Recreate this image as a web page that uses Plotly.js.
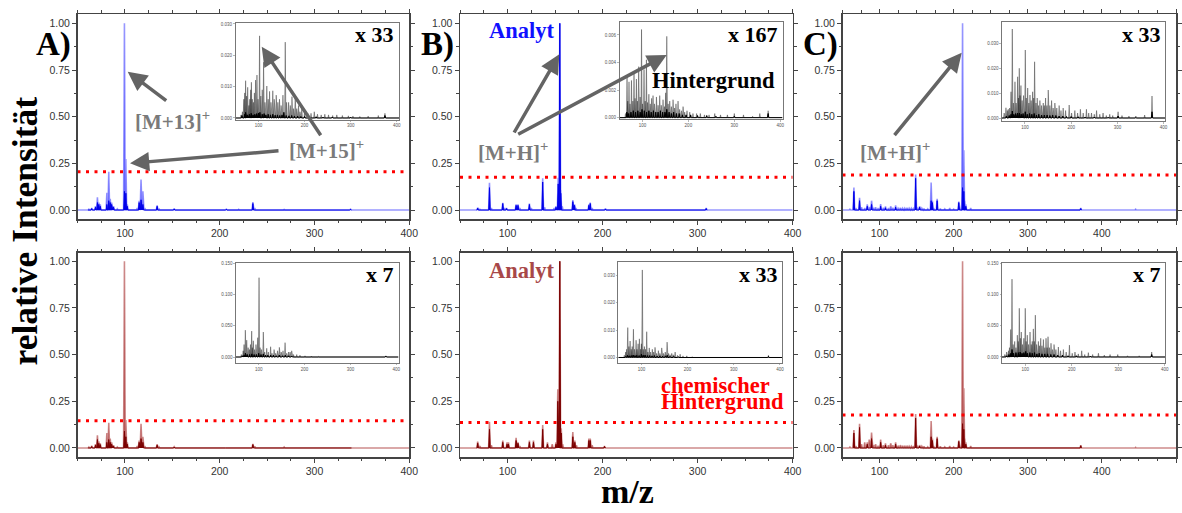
<!DOCTYPE html>
<html><head><meta charset="utf-8">
<script src="https://cdn.plot.ly/plotly-3.0.1.min.js"></script>
<style>html,body{margin:0;padding:0;background:#fff}#chart{width:1182px;height:513px}</style>
</head><body><div id="chart"></div>
<script>
// ---------- main spectra (m/z, relative intensity) ----------
const mzA = [62,65,69,71,72.5,74,81,83,84.5,86,88,92,99.5,101,102.5,113,115,117,119,121,134,136,152,156,165,193,207,220,235,237,268,338];
const intA_top = [0.005,0.01,0.02,0.068,0.04,0.03,0.093,0.205,0.06,0.04,0.02,0.006,1.0,0.273,0.03,0.01,0.05,0.164,0.1,0.01,0.025,0.008,0.008,0.004,0.003,0.003,0.005,0.004,0.043,0.01,0.003,0.005];
const intA_bot = [0.005,0.012,0.02,0.068,0.035,0.025,0.08,0.135,0.05,0.03,0.015,0.005,1.0,0.15,0.03,0.01,0.04,0.13,0.06,0.01,0.02,0.006,0.007,0.003,0.002,0.002,0.003,0.003,0.022,0.008,0.005,0.002];
const mzA_core = [62,65,69,71,72.5,74,81,83,84.5,86,88,99.5,101,102.5,115,117,119,134,152,207,235,338];
const coreA_top = [0.004,0.008,0.015,0.04,0.03,0.02,0.03,0.05,0.04,0.03,0.015,0.1,0.09,0.02,0.04,0.055,0.03,0.02,0.006,0.004,0.035,0.004];
const coreA_bot = [0.004,0.008,0.015,0.045,0.025,0.018,0.03,0.045,0.03,0.02,0.01,0.09,0.06,0.02,0.03,0.05,0.03,0.015,0.005,0.002,0.018,0.002];

const mzB_top = [68.6,71,81,83,95,97,99,109,111,113,123,125,137,139,149,151,153.3,155,156,157.5,168.7,170.5,172,185.6,187,189,203,220,309];
const intB_top = [0.012,0.004,0.146,0.01,0.039,0.01,0.01,0.03,0.03,0.01,0.035,0.01,0.17,0.015,0.01,0.02,0.173,1.0,0.107,0.02,0.054,0.03,0.01,0.03,0.04,0.01,0.008,0.003,0.01];
const mzB_topCore = [68.6,81,95,99,109,111,123,137,151,153.3,155,156,168.7,170.5,185.6,187,203,309];
const coreB_top = [0.01,0.12,0.035,0.008,0.025,0.025,0.03,0.15,0.015,0.14,1.0,0.09,0.045,0.025,0.025,0.035,0.006,0.008];
const mzB_bot = [68.6,71,81,83,95,99.5,101,109,111,113,123,127.3,137,142,147,151,152.9,155,156.5,158,168.7,170.8,172.5,185.6,187,189,202,218,309];
const intB_bot = [0.034,0.01,0.14,0.015,0.04,0.03,0.03,0.055,0.03,0.01,0.04,0.04,0.123,0.03,0.02,0.03,0.314,1.0,0.105,0.02,0.085,0.04,0.015,0.05,0.05,0.015,0.01,0.003,0.003];
const mzB_botCore = [68.6,81,95,99.5,101,109,111,123,127.3,137,142,151,152.9,155,156.5,168.7,170.8,185.6,187,202];
const coreB_bot = [0.025,0.1,0.03,0.02,0.02,0.04,0.025,0.03,0.03,0.1,0.02,0.02,0.25,1.0,0.08,0.06,0.03,0.04,0.04,0.008];

const mzC = [60,65.4,68,73,75.7,80,83.4,86,89.2,92,94.7,98,101.5,105,108,112,115,118,121.7,125,128,131,134,137,140,143,146,148.7,151,154,157,160,165,169.6,171.3,173,177.7,182,188,194.7,200,206.9,210,212,213.7,215,216.4,223,235,371.5,445.5];
const intC_top = [0.005,0.12,0.01,0.066,0.015,0.01,0.03,0.015,0.05,0.012,0.015,0.01,0.032,0.012,0.02,0.01,0.02,0.012,0.025,0.01,0.012,0.01,0.01,0.012,0.01,0.01,0.008,0.19,0.01,0.02,0.01,0.008,0.006,0.148,0.05,0.01,0.06,0.008,0.006,0.01,0.005,0.045,0.01,1.0,0.32,0.05,0.03,0.01,0.004,0.01,0.005];
const intC_bot = [0.005,0.096,0.01,0.13,0.02,0.03,0.03,0.045,0.082,0.015,0.02,0.012,0.045,0.015,0.025,0.015,0.025,0.015,0.03,0.012,0.015,0.012,0.012,0.012,0.01,0.01,0.01,0.182,0.01,0.015,0.01,0.008,0.006,0.145,0.05,0.01,0.06,0.008,0.006,0.01,0.005,0.04,0.01,1.0,0.32,0.05,0.03,0.01,0.004,0.015,0.004];
const mzC_core = [65.4,73,83.4,89.2,101.5,108,121.7,148.7,154,169.6,171.3,177.7,206.9,212,213.7,216.4,371.5];
const coreC_top = [0.1,0.05,0.02,0.03,0.02,0.012,0.015,0.17,0.015,0.05,0.04,0.05,0.04,0.12,0.1,0.02,0.008];
const coreC_bot = [0.08,0.11,0.02,0.05,0.03,0.015,0.02,0.16,0.01,0.06,0.04,0.05,0.035,0.13,0.1,0.02,0.012];

// dotted threshold levels (top row A,B,C ; bottom row A,B,C)
const thresholdTop = [0.205, 0.175, 0.187];
const thresholdBot = [0.146, 0.137, 0.177];

// ---------- inset spectra (background, magnified) ----------
const inA_top_mz = [62,65,68,70,72,74,76.5,79,81,83,84.5,86.5,89,91,93.6,96.6,99,102.3,105,108,111,114,118,121,124,127,131,134,138.4,142,145.5,149,153,158,161,165.3,169,172.6,176,179.6,183,186.8,190,194,200,207,214,221,228,236,244,252,261,270,282,295,305,320,338,360,374.5];
const inA_top_h = [0.001,0.002,0.006,0.008,0.0119,0.007,0.0098,0.004,0.006,0.009,0.0114,0.006,0.005,0.008,0.0121,0.0137,0.006,0.0262,0.007,0.009,0.0178,0.005,0.0102,0.006,0.0085,0.005,0.0087,0.006,0.0073,0.005,0.006,0.004,0.0073,0.0242,0.005,0.005,0.004,0.0068,0.003,0.007,0.003,0.004,0.002,0.003,0.002,0.0015,0.0015,0.002,0.0012,0.001,0.0012,0.001,0.0008,0.001,0.0008,0.0007,0.0006,0.0005,0.0006,0.0008,0.0015];
const inA_top_dmz = [64,70,72,76,80,84,88,92,96,100,103,108,112,116,121,126,131,136,141,146,151,155,160,166,172,178,185,192,200,210,225,240,260,300,374.5];
const inA_top_dh = [0.0008,0.0012,0.0018,0.001,0.0012,0.0015,0.001,0.0012,0.0014,0.0016,0.0018,0.0012,0.0014,0.001,0.0012,0.001,0.0012,0.0009,0.001,0.0008,0.001,0.0018,0.0008,0.0007,0.0008,0.0006,0.0006,0.0005,0.0005,0.0004,0.0004,0.0003,0.0003,0.0003,0.0008];

const inB_top_mz = [63,66.4,68,70.7,73,76,79,81.6,84,86.8,89,91.8,95,98,100,103.4,106,108.6,111,114,117,120,123,126,130.4,134,137.6,141,144.8,148,150.5,153,156,159.4,163,166.6,170,173,177.5,181,185,188.4,192,197,203,210,218,226,235,245,257.5,270,285,300,320,340,355.6,373.7];
const inB_top_h = [0.0003,0.0030,0.0012,0.0026,0.0010,0.0027,0.0012,0.0032,0.0014,0.0028,0.0012,0.0037,0.0015,0.0064,0.0010,0.0035,0.0012,0.0042,0.0011,0.0017,0.0010,0.0014,0.0016,0.0010,0.0015,0.0009,0.0016,0.0009,0.0013,0.0008,0.0018,0.0059,0.0010,0.0012,0.0008,0.0013,0.0007,0.0010,0.0012,0.0006,0.0005,0.0008,0.0004,0.0005,0.0004,0.0003,0.0003,0.0003,0.0002,0.0002,0.0003,0.0002,0.0002,0.0003,0.0002,0.0001,0.0003,0.0005];
const inB_top_dmz = [66,70,75,80,85,90,95,99,104,109,114,119,124,129,134,139,144,149,153,158,163,168,174,180,187,195,205,220,240,260,300,373.7];
const inB_top_dh = [0.0004,0.0003,0.0004,0.0005,0.0004,0.0005,0.0004,0.0006,0.0005,0.0004,0.0005,0.0004,0.0005,0.0004,0.0004,0.0005,0.0004,0.0004,0.0006,0.0004,0.0003,0.0004,0.0003,0.0003,0.0002,0.0002,0.0002,0.00015,0.00015,0.0001,0.0001,0.0003];

const inC_top_mz = [55,59,62,64,67,69.9,72.7,75,78.5,81,84.3,86,87.8,89.5,91.4,94,97,100.8,103,106,108.5,111,113.5,116.7,119,121,124,126.6,129.5,132.4,136,139.6,142,144.7,147.5,150.4,154,157.7,161,164.8,169,174,178,182.7,188,195.7,201,208,214,220,226,233,238,244,250,255,262,269,276,283.5,290,301.5,310,325,340,359,374.9];
const inC_top_h = [0.002,0.0041,0.003,0.0035,0.004,0.0105,0.0356,0.006,0.0145,0.006,0.0165,0.008,0.0199,0.009,0.013,0.007,0.009,0.0272,0.008,0.012,0.006,0.0092,0.007,0.0105,0.008,0.0225,0.006,0.008,0.005,0.007,0.005,0.006,0.005,0.008,0.005,0.0112,0.005,0.007,0.004,0.006,0.004,0.005,0.003,0.004,0.003,0.0052,0.002,0.003,0.002,0.0035,0.002,0.0035,0.002,0.002,0.0015,0.003,0.0015,0.002,0.001,0.0015,0.001,0.0025,0.001,0.0008,0.0008,0.0012,0.0088];
const inC_top_dmz = [60,66,70,72.7,76,80,84,88,92,96,100.8,105,110,115,120,125,130,136,142,148,154,160,167,174,182,190,200,215,230,250,280,301.5,340,374.9];
const inC_top_dh = [0.0008,0.001,0.0015,0.0028,0.0015,0.0018,0.002,0.002,0.0015,0.0018,0.0025,0.0015,0.0018,0.0015,0.0018,0.0012,0.0015,0.0012,0.0012,0.0012,0.001,0.0012,0.001,0.0008,0.0008,0.0006,0.0006,0.0005,0.0004,0.0004,0.0003,0.0008,0.0002,0.0025];

const inA_bot_mz = [62,66,68,70.8,73.8,77,80,82,84.7,86,88.2,91,94,97.8,100.7,103,106,110,113,117.5,121,126,129,133.5,137,141,145,149,153,157.5,161,165,168.4,172,176,183,190,201,215,230,250,280,320,377.5];
const inA_bot_h = [0.004,0.01,0.02,0.043,0.027,0.015,0.012,0.02,0.0415,0.015,0.026,0.012,0.02,0.031,0.127,0.015,0.012,0.04,0.008,0.014,0.008,0.0165,0.006,0.012,0.006,0.01,0.0155,0.008,0.01,0.023,0.006,0.008,0.008,0.01,0.004,0.004,0.003,0.002,0.0015,0.001,0.001,0.0008,0.0006,0.002];
const inA_bot_dmz = [64,68,71,75,80,85,90,95,100,105,110,115,120,126,132,138,145,152,158,165,172,180,200,377.5];
const inA_bot_dh = [0.002,0.003,0.006,0.004,0.004,0.005,0.004,0.004,0.006,0.004,0.005,0.003,0.003,0.003,0.003,0.002,0.003,0.002,0.003,0.002,0.0015,0.001,0.0008,0.0015];

const inB_bot_mz = [63,66,68,70.5,73,75.5,78,80,82.7,85,88.5,90.5,92.8,95.6,98,100,102,104,106.5,109,111.5,114,117,120,123.6,126.5,129.5,133,136.7,140,144,148,151.5,155.6,159,162,165.7,169,173,178,183.8,190,198.3,210,230,260,300,340,375];
const inB_bot_h = [0.0008,0.002,0.003,0.0109,0.004,0.006,0.003,0.004,0.0103,0.003,0.0063,0.003,0.005,0.0068,0.003,0.005,0.0319,0.003,0.004,0.003,0.0094,0.002,0.0035,0.002,0.003,0.002,0.0037,0.0015,0.0025,0.0015,0.0035,0.0015,0.002,0.0056,0.0015,0.001,0.0015,0.001,0.002,0.0008,0.0012,0.0006,0.0006,0.0003,0.0002,0.0002,0.0002,0.0002,0.0008];
const inB_bot_dmz = [66,70,74,78,82,86,90,95,100,104,108,113,118,123,128,134,140,146,152,156,162,170,180,195,375];
const inB_bot_dh = [0.0004,0.0008,0.0006,0.0007,0.0009,0.0007,0.0008,0.0007,0.0012,0.0008,0.0009,0.0007,0.0007,0.0006,0.0007,0.0005,0.0006,0.0005,0.0006,0.0008,0.0004,0.0004,0.0003,0.0002,0.0004];

const inC_bot_mz = [56,60,64,66,68.7,71.5,74,77.3,80,83,85,87.2,89.5,91.5,94,97,100,102,104.4,107,110.3,113,115,117.4,119.5,121.7,124.5,128.2,130.5,133.3,136,139,142,144.7,147,149,152,155.4,158.5,161.9,166,171.2,176,182,188,195,201,207,214,221.5,228,235.7,245,257.4,270,282.4,299,320,345,372];
const inC_bot_h = [0.004,0.008,0.01,0.015,0.044,0.1246,0.02,0.025,0.015,0.035,0.025,0.078,0.03,0.04,0.02,0.03,0.078,0.025,0.035,0.02,0.04,0.02,0.025,0.045,0.025,0.067,0.02,0.025,0.018,0.03,0.018,0.028,0.015,0.03,0.015,0.0325,0.015,0.022,0.012,0.02,0.012,0.016,0.01,0.012,0.008,0.019,0.006,0.008,0.005,0.01,0.004,0.007,0.004,0.006,0.003,0.004,0.004,0.002,0.002,0.008];
const inC_bot_dmz = [60,65,69,71.5,75,80,85,89,93,97,101,105,110,115,120,125,130,136,142,148,155,162,170,180,192,210,240,300,372];
const inC_bot_dh = [0.002,0.004,0.006,0.012,0.006,0.007,0.007,0.008,0.006,0.007,0.009,0.006,0.007,0.006,0.007,0.005,0.006,0.005,0.005,0.005,0.004,0.004,0.003,0.003,0.002,0.002,0.0015,0.001,0.004];

// ---------- helpers ----------
const W = 1182, H = 513;
const PX = x => x / W, PY = y => 1 - y / H;

function stick(mz, h, hw, x0, x1) {
  const idx = mz.map((_, i) => i).sort((a, b) => mz[a] - mz[b]);
  const X = [x0], Y = [0];
  idx.forEach(i => { X.push(mz[i] - hw, mz[i], mz[i] + hw); Y.push(0, h[i], 0); });
  X.push(x1); Y.push(0);
  return {x: X, y: Y};
}

// panel geometry (pixels) : main plots 1..6, insets 7..12
const mains = [
  {xr:[50,400], xd:[77.5,409.3], yd:[14,219],    yr:[-0.048,1.05]},
  {xr:[50,400], xd:[460,792.7],  yd:[14,219],    yr:[-0.048,1.05]},
  {xr:[50,500], xd:[842.5,1176], yd:[14,219],    yr:[-0.048,1.05]},
  {xr:[50,400], xd:[77.5,409.3], yd:[252.7,457.3], yr:[-0.05,1.046]},
  {xr:[50,400], xd:[460,792.7],  yd:[252.7,457.3], yr:[-0.05,1.046]},
  {xr:[50,500], xd:[842.5,1176], yd:[252.7,457.3], yr:[-0.05,1.046]}
];
const insets = [
  {xr:[50,405], xd:[235.5,399],  yd:[23.3,119.5], yr:[-0.00048,0.0302], dt:0.01},
  {xr:[50,405], xd:[619.5,782.5],yd:[22,119],     yr:[-0.0001,0.00694], dt:0.002},
  {xr:[50,403], xd:[1001.8,1165],yd:[22,121],     yr:[-0.0012,0.0384],  dt:0.01},
  {xr:[50,405], xd:[235.8,398.5],yd:[263.3,362.7],yr:[-0.0091,0.150],   dt:0.05},
  {xr:[50,405], xd:[618.3,782.3],yd:[261.7,362.7],yr:[-0.0019,0.0349],  dt:0.01},
  {xr:[50,400.6],xd:[1002,1165], yd:[263.3,363.3],yr:[-0.0101,0.150],   dt:0.05}
];

const mainData = [
  {mz:mzA, h:intA_top, cmz:mzA_core, ch:coreA_top, thr:thresholdTop[0], hw:0.9},
  {mz:mzB_top, h:intB_top, cmz:mzB_topCore, ch:coreB_top, thr:thresholdTop[1], hw:0.9},
  {mz:mzC, h:intC_top, cmz:mzC_core, ch:coreC_top, thr:thresholdTop[2], hw:1.1},
  {mz:mzA, h:intA_bot, cmz:mzA_core, ch:coreA_bot, thr:thresholdBot[0], hw:0.9},
  {mz:mzB_bot, h:intB_bot, cmz:mzB_botCore, ch:coreB_bot, thr:thresholdBot[1], hw:0.9},
  {mz:mzC, h:intC_bot, cmz:mzC_core, ch:coreC_bot, thr:thresholdBot[2], hw:1.1}
];
const insetData = [
  {mz:inA_top_mz, h:inA_top_h, dmz:inA_top_dmz, dh:inA_top_dh},
  {mz:inB_top_mz, h:inB_top_h, dmz:inB_top_dmz, dh:inB_top_dh},
  {mz:inC_top_mz, h:inC_top_h, dmz:inC_top_dmz, dh:inC_top_dh},
  {mz:inA_bot_mz, h:inA_bot_h, dmz:inA_bot_dmz, dh:inA_bot_dh},
  {mz:inB_bot_mz, h:inB_bot_h, dmz:inB_bot_dmz, dh:inB_bot_dh},
  {mz:inC_bot_mz, h:inC_bot_h, dmz:inC_bot_dmz, dh:inC_bot_dh}
];

const traces = [];
const layout = {
  width: W, height: H, margin: {l:0, r:0, t:0, b:0, pad:0},
  paper_bgcolor: '#ffffff', plot_bgcolor: '#ffffff', showlegend: false,
  annotations: []
};
const axName = (k, i) => k + 'axis' + (i === 1 ? '' : i);
const axId = (k, i) => k + (i === 1 ? '' : i);

mains.forEach((m, j) => {
  const i = j + 1;
  const top = j < 3;
  const light = top ? 'rgba(50,50,255,0.5)' : 'rgba(165,45,45,0.55)';
  const dark = top ? '#0000e8' : '#7a0000';
  const d = mainData[j];
  const s1 = stick(d.mz, d.h, d.hw, m.xr[0], m.xr[1]);
  traces.push({type:'scatter', mode:'lines', x:s1.x, y:s1.y, xaxis:axId('x',i), yaxis:axId('y',i),
    line:{color:light, width:1.6}, fill:'tozeroy', fillcolor:light, hoverinfo:'skip'});
  const s2 = stick(d.cmz, d.ch, d.hw * 0.8, d.cmz[0] - 1, d.cmz[d.cmz.length - 1] + 1);
  traces.push({type:'scatter', mode:'lines', x:s2.x, y:s2.y, xaxis:axId('x',i), yaxis:axId('y',i),
    line:{color:dark, width:1}, fill:'tozeroy', fillcolor:dark, hoverinfo:'skip'});
  traces.push({type:'scatter', mode:'lines', x:[m.xr[0], m.xr[1]], y:[d.thr, d.thr],
    xaxis:axId('x',i), yaxis:axId('y',i), line:{color:'#ff0000', width:3, dash:'3px,5.5px'}, hoverinfo:'skip'});
  const common = {showline:true, mirror:'allticks', linecolor:'#444', linewidth:1.5, ticks:'outside',
    ticklen:4, tickwidth:1, tickcolor:'#444', showgrid:false, zeroline:false,
    tickfont:{family:'Liberation Sans, Arial, sans-serif', size:10.5, color:'#333'}};
  layout[axName('x', i)] = Object.assign({}, common, {
    domain:[PX(m.xd[0]), PX(m.xd[1])], range:m.xr, anchor:axId('y', i),
    tick0:0, dtick:100, minor:{dtick:25, ticklen:2.5, tickcolor:'#444', ticks:'outside'}
  });
  layout[axName('y', i)] = Object.assign({}, common, {
    domain:[PY(m.yd[1]), PY(m.yd[0])], range:m.yr, anchor:axId('x', i),
    tick0:0, dtick:0.25, tickformat:'.2f', minor:{dtick:0.125, ticklen:2.5, tickcolor:'#444', ticks:'outside'}
  });
});

insets.forEach((m, j) => {
  const i = j + 7;
  const d = insetData[j];
  const s1 = stick(d.mz, d.h, 1.4, m.xr[0], m.xr[1]);
  traces.push({type:'scatter', mode:'lines', x:s1.x, y:s1.y, xaxis:axId('x',i), yaxis:axId('y',i),
    line:{color:'rgba(0,0,0,0.33)', width:1}, fill:'tozeroy', fillcolor:'rgba(0,0,0,0.3)', hoverinfo:'skip'});
  const s2 = stick(d.dmz, d.dh, 1.4, m.xr[0], m.xr[1]);
  traces.push({type:'scatter', mode:'lines', x:s2.x, y:s2.y, xaxis:axId('x',i), yaxis:axId('y',i),
    line:{color:'#000', width:1}, fill:'tozeroy', fillcolor:'#000', hoverinfo:'skip'});
  const common = {showline:true, mirror:true, linecolor:'#777', linewidth:1, ticks:'outside',
    ticklen:1.5, tickwidth:0.7, tickcolor:'#999', showgrid:false, zeroline:false,
    tickfont:{family:'Liberation Sans, Arial, sans-serif', size:4.5, color:'#555'}};
  layout[axName('x', i)] = Object.assign({}, common, {
    domain:[PX(m.xd[0]), PX(m.xd[1])], range:m.xr, anchor:axId('y', i), tick0:0, dtick:100
  });
  layout[axName('y', i)] = Object.assign({}, common, {
    domain:[PY(m.yd[1]), PY(m.yd[0])], range:m.yr, anchor:axId('x', i), tick0:0, dtick:m.dt, tickformat:'.3f'
  });
});

// ---------- texts ----------
const serif = 'Liberation Serif, Times New Roman, serif';
function txt(x, y, text, size, color, extra) {
  layout.annotations.push(Object.assign({xref:'paper', yref:'paper', x:PX(x), y:PY(y), text:text,
    showarrow:false, xanchor:'center', yanchor:'middle', font:{family:serif, size:size, color:color}}, extra || {}));
}
function arrow(tipX, tipY, tailX, tailY) {
  layout.annotations.push({xref:'paper', yref:'paper', x:PX(tipX), y:PY(tipY), ax:tailX - tipX, ay:tailY - tipY,
    text:'', showarrow:true, arrowhead:2, arrowsize:1.1, arrowwidth:3.5, arrowcolor:'#646464', standoff:0, startstandoff:0});
}
txt(53, 44, '<b>A)</b>', 33, '#000');
txt(437, 44, '<b>B)</b>', 33, '#000');
txt(820, 44, '<b>C)</b>', 33, '#000');
txt(374, 34.7, '<b>x 33</b>', 22, '#000');
txt(753, 34.7, '<b>x 167</b>', 22, '#000');
txt(1141, 34.7, '<b>x 33</b>', 22, '#000');
txt(380, 274.4, '<b>x 7</b>', 22, '#000');
txt(758, 274.4, '<b>x 33</b>', 22, '#000');
txt(1146.5, 274.4, '<b>x 7</b>', 22, '#000');
txt(521.5, 30.3, '<b>Analyt</b>', 22.5, '#1010ff');
txt(521.5, 270.3, '<b>Analyt</b>', 22.5, '#a84848');
txt(713, 80.9, '<b>Hintergrund</b>', 22.5, '#000');
txt(659, 385.6, '<b>chemischer</b>', 22.5, '#ff0000', {xanchor:'left'});
txt(659, 401, '<b>Hintergrund</b>', 22.5, '#ff0000', {xanchor:'left'});
txt(172, 120.7, '<b>[M+13]<sup>+</sup></b>', 21, '#7a7a7a');
txt(326, 149.7, '<b>[M+15]<sup>+</sup></b>', 21, '#7a7a7a');
txt(512.5, 151.3, '<b>[M+H]<sup>+</sup></b>', 21, '#7a7a7a');
txt(894.5, 151.3, '<b>[M+H]<sup>+</sup></b>', 21, '#7a7a7a');
txt(627.5, 491.8, '<b>m/z</b>', 34, '#000');
txt(25.4, 231, '<b>relative Intensität</b>', 35.5, '#000', {textangle:-90});

arrow(127.7, 71.7, 167.7, 101.7);
arrow(261.7, 46.7, 321.7, 136.7);
arrow(130, 163.3, 280, 150.7);
arrow(559.3, 54.3, 513.3, 134);
arrow(666.7, 55, 516.7, 135);
arrow(961.7, 52.7, 893.3, 136.7);

Plotly.newPlot('chart', traces, layout, {staticPlot:true, displayModeBar:false});
</script></body></html>
